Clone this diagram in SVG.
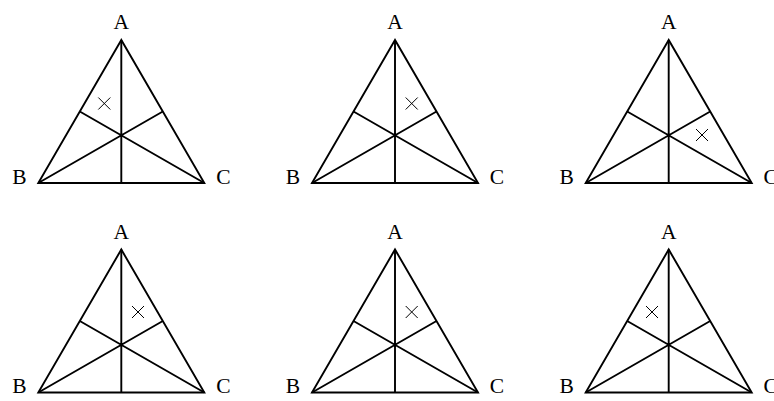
<svg xmlns="http://www.w3.org/2000/svg" width="774" height="401" viewBox="0 0 774 401">
<defs>
<style>
.tri{fill:none;stroke:#000;stroke-width:1.9;stroke-linejoin:miter}
.med{fill:none;stroke:#000;stroke-width:1.9}
.x{fill:none;stroke:#000;stroke-width:1}
text{font-family:"Liberation Serif","DejaVu Serif",serif;font-size:21.5px;fill:#000}
</style>
<g id="fig">
<path class="tri" d="M0,0 L-83,143 L83,143 Z"/>
<path class="med" d="M0,0 L0,143 M-83,143 L41.5,71.5 M83,143 L-41.5,71.5"/>
<text x="0" y="-11" text-anchor="middle">A</text>
<text x="-102" y="143.5" text-anchor="middle">B</text>
<text x="102" y="143.5" text-anchor="middle">C</text>
</g>
<path id="cross" class="x" d="M-6,-6 L6,6 M-6,6 L6,-6"/>
</defs>
<g id="t1" transform="translate(121.3,40)"><use href="#fig"/><use href="#cross" x="-17" y="63.5"/></g>
<g id="t2" transform="translate(395,40)"><use href="#fig"/><use href="#cross" x="16.7" y="63.5"/></g>
<g id="t3" transform="translate(668.7,40)"><use href="#fig"/><use href="#cross" x="33.3" y="95"/></g>
<g id="t4" transform="translate(121.3,249.5)"><use href="#fig"/><use href="#cross" x="16.7" y="62.5"/></g>
<g id="t5" transform="translate(395,249.5)"><use href="#fig"/><use href="#cross" x="16.7" y="62.5"/></g>
<g id="t6" transform="translate(668.7,249.5)"><use href="#fig"/><use href="#cross" x="-16.7" y="62.5"/></g>
</svg>
